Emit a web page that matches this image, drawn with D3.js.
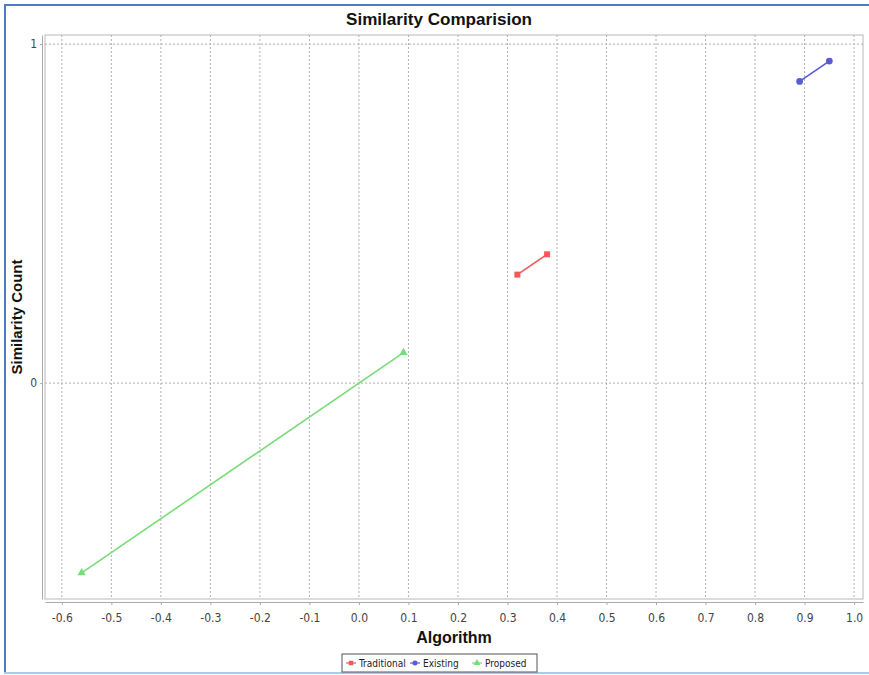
<!DOCTYPE html>
<html>
<head>
<meta charset="utf-8">
<script src="https://cdn.jsdelivr.net/npm/d3@7"></script>
<style>
  html, body { margin: 0; padding: 0; background: #fff; }
  svg { display: block; font-family: "DejaVu Sans", Tahoma, sans-serif; }
</style>
</head>
<body>
<svg id="chart" width="869" height="675"></svg>
<script>
// Series data: each series is a short line between two (x, y) points
const seriesNames = ["Traditional", "Existing", "Proposed"];
const traditionalX = [0.32, 0.38];
const traditionalY = [0.32, 0.38];
const existingX = [0.89, 0.95];
const existingY = [0.89, 0.95];
const proposedX = [-0.56, 0.09];
const proposedY = [-0.56, 0.09];
const xTicks = [-0.6, -0.5, -0.4, -0.3, -0.2, -0.1, 0.0, 0.1, 0.2, 0.3, 0.4, 0.5, 0.6, 0.7, 0.8, 0.9, 1.0];
const yTicks = [0, 1];

const colors = ["#f25a5a", "#5a5ad8", "#78dc78"];
const shapes = [d3.symbolSquare, d3.symbolCircle, d3.symbolTriangle];

const series = [
  { name: seriesNames[0], pts: traditionalX.map((x, i) => [x, traditionalY[i]]) },
  { name: seriesNames[1], pts: existingX.map((x, i) => [x, existingY[i]]) },
  { name: seriesNames[2], pts: proposedX.map((x, i) => [x, proposedY[i]]) }
];

const svg = d3.select("#chart");
const W = 869, H = 675;

// outer frame
svg.append("line").attr("x1", 4).attr("x2", 869).attr("y1", 5).attr("y2", 5)
  .attr("stroke", "#4a7ec8").attr("stroke-width", 2);
svg.append("line").attr("x1", 5).attr("x2", 5).attr("y1", 4).attr("y2", 673)
  .attr("stroke", "#4a7ec8").attr("stroke-width", 2);
svg.append("line").attr("x1", 4).attr("x2", 869).attr("y1", 673).attr("y2", 673)
  .attr("stroke", "#a8cde8").attr("stroke-width", 2);

// plot area
const plot = { left: 45, right: 863, top: 35, bottom: 599 };

const x = d3.scaleLinear().domain([-0.634, 1.018]).range([plot.left, plot.right]);
const y = d3.scaleLinear().domain([-0.637, 1.027]).range([plot.bottom, plot.top]);

// title
svg.append("text").attr("x", 439).attr("y", 25).attr("text-anchor", "middle")
  .attr("font-size", 16).attr("font-weight", "bold").attr("fill", "#111")
  .attr("font-family", "'Liberation Sans', Arial, sans-serif")
  .attr("textLength", 186).attr("lengthAdjust", "spacingAndGlyphs")
  .text("Similarity Comparision");

// plot background and border
svg.append("rect").attr("x", plot.left).attr("y", plot.top)
  .attr("width", plot.right - plot.left).attr("height", plot.bottom - plot.top)
  .attr("fill", "#fff").attr("stroke", "#b8b8b8").attr("stroke-width", 1);

// gridlines
const grid = svg.append("g").attr("stroke", "#b0b0b0").attr("stroke-width", 1)
  .attr("stroke-dasharray", "2,2");
grid.selectAll("line.v").data(xTicks).join("line").attr("class", "v")
  .attr("x1", d => x(d)).attr("x2", d => x(d))
  .attr("y1", plot.top).attr("y2", plot.bottom);
grid.selectAll("line.h").data(yTicks).join("line").attr("class", "h")
  .attr("x1", plot.left).attr("x2", plot.right)
  .attr("y1", d => y(d)).attr("y2", d => y(d));

// axes (offset slightly from the plot area)
const xAxis = d3.axisBottom(x).tickValues(xTicks).tickFormat(d3.format(".1f"))
  .tickSizeInner(3).tickSizeOuter(0).tickPadding(8);
const gx = svg.append("g").attr("transform", `translate(0,${plot.bottom + 3})`).call(xAxis);
gx.select(".domain").attr("stroke", "#aaa");
gx.selectAll(".tick line").attr("stroke", "#aaa");
gx.selectAll(".tick text").attr("font-size", 12).attr("fill", "#444")
  .attr("font-family", "'DejaVu Sans Condensed', 'DejaVu Sans', sans-serif")
  .text(d => d3.format(".1f")(d).replace("−", "-"));

const yAxis = d3.axisLeft(y).tickValues(yTicks).tickFormat(d3.format("d"))
  .tickSizeInner(2).tickSizeOuter(0).tickPadding(3);
const gy = svg.append("g").attr("transform", `translate(${plot.left - 3},0)`).call(yAxis);
gy.select(".domain").attr("stroke", "#aaa");
gy.selectAll(".tick line").attr("stroke", "#aaa");
gy.selectAll(".tick text").attr("font-size", 12).attr("fill", "#444")
  .attr("font-family", "'DejaVu Sans Condensed', 'DejaVu Sans', sans-serif");

// axis titles
svg.append("text").attr("x", (plot.left + plot.right) / 2).attr("y", 643)
  .attr("text-anchor", "middle").attr("font-size", 16).attr("font-weight", "bold")
  .attr("fill", "#111").attr("font-family", "'Liberation Sans', Arial, sans-serif")
  .text("Algorithm");
svg.append("text")
  .attr("transform", `translate(22,${(plot.top + plot.bottom) / 2}) rotate(-90)`)
  .attr("text-anchor", "middle").attr("font-size", 15).attr("font-weight", "bold")
  .attr("fill", "#111").attr("font-family", "'Liberation Sans', Arial, sans-serif")
  .text("Similarity Count");

// series lines and markers
const line = d3.line().x(d => x(d[0])).y(d => y(d[1]));
series.forEach((s, i) => {
  svg.append("path").datum(s.pts).attr("d", line)
    .attr("fill", "none").attr("stroke", colors[i]).attr("stroke-width", 1.6);
  svg.selectAll(null).data(s.pts).join("path")
    .attr("transform", d => `translate(${x(d[0])},${y(d[1])})`)
    .attr("d", d3.symbol().type(shapes[i]).size(i === 2 ? 30 : 36))
    .attr("fill", colors[i]);
});

// legend
const legend = svg.append("g");
legend.append("rect").attr("x", 342).attr("y", 654).attr("width", 195).attr("height", 18)
  .attr("fill", "#fff").attr("stroke", "#555").attr("stroke-width", 1);
const legendX = [346, 410, 472];
seriesNames.forEach((n, i) => {
  const g = legend.append("g").attr("transform", `translate(${legendX[i]},663)`);
  g.append("line").attr("x1", 0).attr("x2", 10).attr("y1", 0).attr("y2", 0)
    .attr("stroke", colors[i]).attr("stroke-width", 1.2);
  g.append("path").attr("transform", "translate(5,0)")
    .attr("d", d3.symbol().type(shapes[i]).size(20)).attr("fill", colors[i]);
  g.append("text").attr("x", 13).attr("y", 4).attr("font-size", 10).attr("fill", "#222")
    .attr("font-family", "'DejaVu Sans Condensed', 'DejaVu Sans', sans-serif")
    .text(n);
});
</script>
</body>
</html>
